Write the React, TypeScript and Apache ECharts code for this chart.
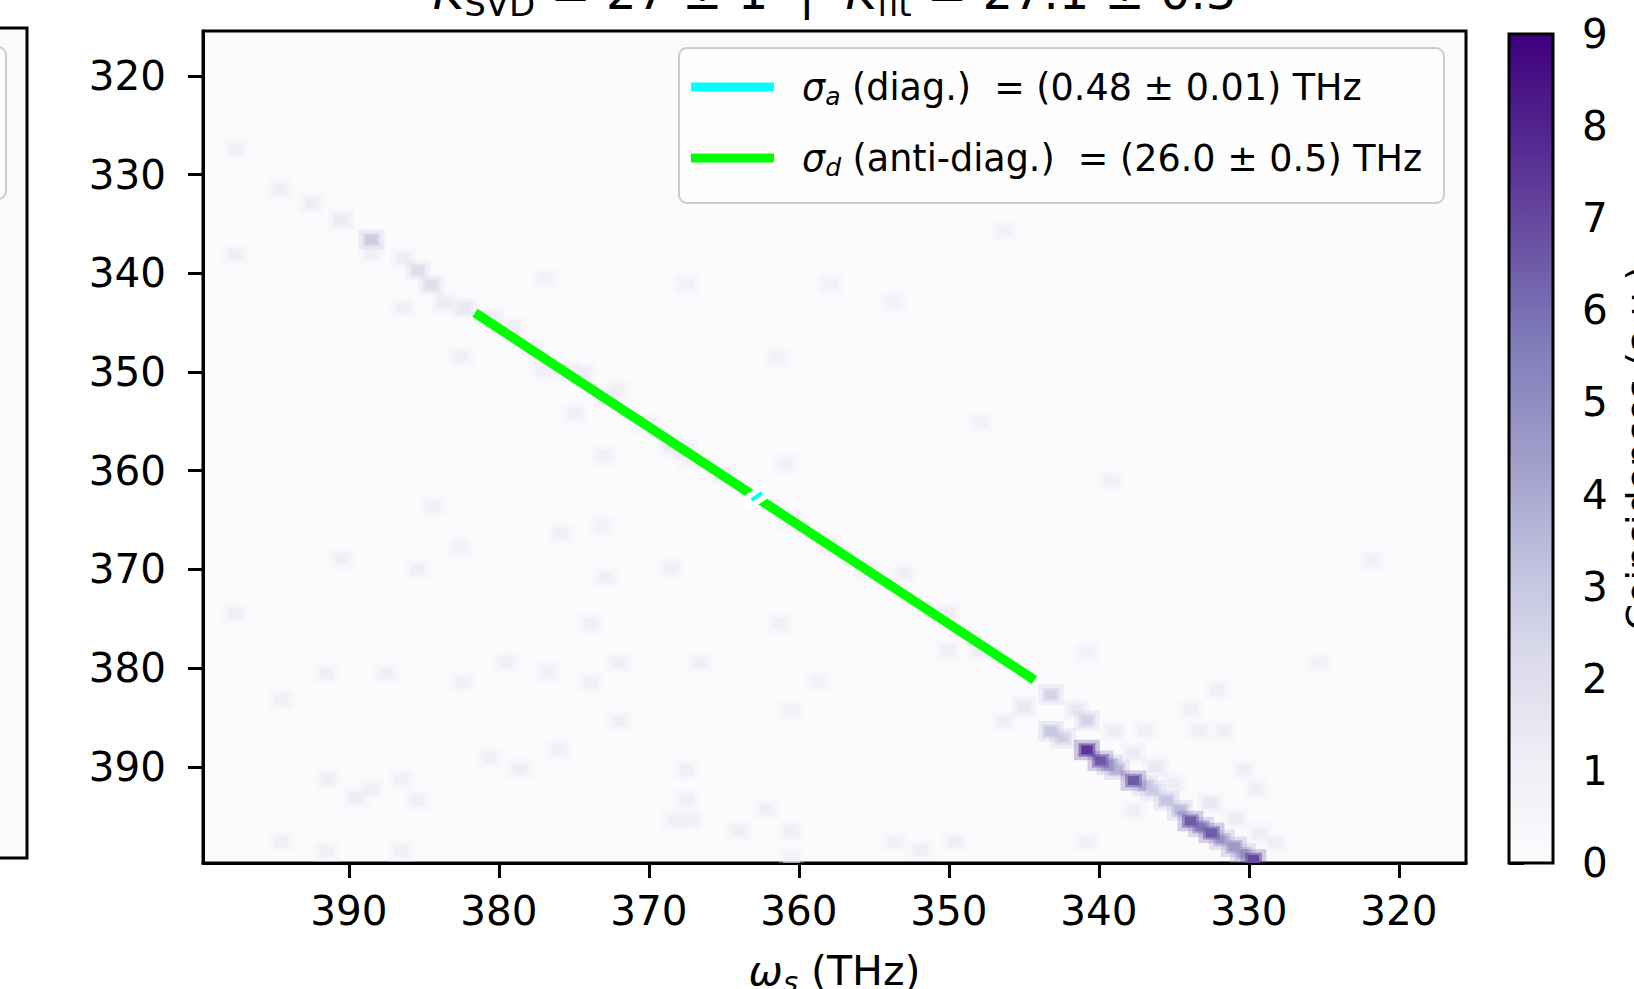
import React, { useEffect, useRef } from 'react';
import * as echarts from 'echarts';

// ---------- axes ----------
const X_RANGE = [315.53, 399.73]; // omega_s (THz), drawn reversed
const Y_RANGE = [315.45, 399.75]; // omega_i (THz), drawn top-down
const xTicks = [320, 330, 340, 350, 360, 370, 380, 390];
const yTicks = [320, 330, 340, 350, 360, 370, 380, 390];
const CB_MIN = 0;
const CB_MAX = 9;

// matplotlib "Purples"
const purples = ['#fcfbfd', '#efedf5', '#dadaeb', '#bcbddc', '#9e9ac8', '#807dba', '#6a51a3', '#54278f', '#3f007d'];

// histogram cell size (THz)
const BIN_X = 0.75;
const BIN_Y = 0.9;

// ---------- histogram cells: [omega_s, omega_i, coincidences] ----------
const upperStreak = [
  [397.5, 327.4, 1.0], [394.6, 331.5, 1.0], [392.5, 332.9, 1.2], [390.5, 334.6, 1.3],
  [388.5, 336.6, 2.8], [388.5, 338.0, 1.0], [386.4, 338.5, 1.2], [385.4, 339.7, 2.0],
  [384.5, 341.2, 2.0], [383.6, 343.0, 1.3], [382.3, 343.5, 1.5], [380.5, 344.4, 1.2],
  [379.0, 345.4, 1.0],
];

const underFitLine = [
  [377.8, 347.6, 1.2], [375.5, 350.0, 1.2], [372.8, 352.6, 1.3], [370.1, 355.3, 1.2],
  [367.6, 357.9, 1.5], [365.0, 360.4, 1.3], [360.5, 365.0, 1.2], [358.0, 367.5, 1.3],
  [355.4, 370.0, 1.2], [353.0, 370.4, 1.0], [350.1, 374.4, 1.2], [350.1, 378.2, 1.0],
  [347.9, 378.2, 1.2],
];

const lowerStreak = [
  [346.3, 385.4, 1.0], [345.0, 383.9, 1.5], [343.2, 382.7, 2.5], [343.2, 386.4, 3.0],
  [342.4, 387.1, 2.5], [341.5, 384.2, 1.5], [340.8, 385.3, 2.5], [340.8, 388.3, 7.5],
  [339.9, 389.4, 6.5], [339.3, 389.8, 4.0], [339.0, 386.4, 1.2], [338.8, 390.3, 3.5],
  [337.7, 391.4, 6.5], [337.7, 388.6, 1.3], [336.9, 386.3, 1.0], [336.9, 391.9, 3.0],
  [336.2, 390.0, 1.5], [336.4, 392.4, 2.5], [335.5, 393.4, 3.0], [335.0, 391.7, 1.2],
  [334.6, 394.4, 3.5], [333.9, 395.5, 6.5], [333.2, 396.1, 5.0], [332.6, 393.7, 1.5],
  [332.5, 396.7, 6.5], [331.8, 397.4, 4.0], [331.0, 398.1, 4.5], [330.4, 398.8, 4.0],
  [329.7, 399.4, 7.0], [330.9, 395.2, 1.2], [329.3, 396.7, 1.2], [328.2, 397.7, 1.0],
  [330.3, 390.3, 1.0], [329.5, 392.2, 1.0], [333.9, 384.2, 1.0], [333.3, 386.3, 1.0],
  [331.7, 386.4, 1.0], [332.1, 382.2, 1.0], [337.7, 394.4, 1.0], [340.8, 378.4, 0.8],
];

const noiseCells = [
  [397.6, 338.1, 1.0], [386.4, 343.5, 1.0], [376.9, 340.5, 0.8], [367.5, 341.1, 0.8],
  [382.5, 348.4, 1.0], [377.0, 349.8, 1.0], [374.4, 350.1, 1.2], [372.1, 351.8, 1.0],
  [374.9, 354.2, 1.0], [373.0, 358.5, 1.0], [368.5, 357.6, 1.3], [367.3, 358.9, 1.0],
  [361.4, 348.5, 0.8], [384.4, 363.6, 1.0], [375.9, 366.4, 1.0], [373.1, 365.6, 0.8],
  [382.6, 367.7, 0.8], [360.9, 359.3, 0.8], [346.3, 335.7, 0.8], [357.9, 341.1, 0.8],
  [353.7, 342.9, 0.8], [347.9, 355.1, 0.8], [339.2, 361.0, 0.8], [390.5, 369.0, 1.0],
  [385.4, 370.0, 1.0], [397.6, 374.5, 1.0], [391.5, 380.5, 1.0], [387.5, 380.5, 1.0],
  [394.5, 383.2, 1.0], [382.4, 381.4, 1.0], [379.5, 379.4, 1.0], [376.7, 380.4, 0.8],
  [391.4, 391.3, 1.0], [389.5, 393.1, 1.2], [388.5, 392.3, 1.0], [386.5, 391.3, 1.0],
  [385.4, 393.4, 1.0], [380.6, 389.1, 1.0], [378.6, 390.2, 1.2], [376.0, 388.3, 1.0],
  [394.5, 397.6, 1.0], [391.5, 398.6, 1.0], [386.5, 398.6, 1.0], [372.9, 370.8, 1.0],
  [368.5, 369.9, 1.0], [373.9, 375.5, 1.0], [361.3, 375.5, 1.0], [372.0, 379.5, 1.0],
  [366.6, 379.5, 1.0], [373.9, 381.5, 1.0], [358.7, 381.4, 0.8], [360.5, 384.3, 0.8],
  [372.0, 385.3, 1.0], [367.5, 390.3, 1.0], [367.5, 393.3, 1.0], [368.3, 395.4, 1.0],
  [367.2, 395.4, 1.0], [362.2, 394.3, 1.0], [364.0, 396.5, 1.0], [360.5, 396.5, 1.0],
  [353.6, 397.6, 1.0], [360.5, 399.1, 0.8], [351.9, 398.4, 1.0], [349.6, 397.6, 1.0],
  [340.8, 397.6, 1.0], [321.8, 369.1, 0.8], [325.3, 379.5, 0.8],
];

// ---------- fitted widths (drawn as segments) ----------
const sigmaAntiDiagLine = [[381.6, 344.0], [344.3, 381.2]];
const sigmaDiagLine = [[362.45, 362.25], [363.15, 362.95]];

const legendLabels = [
  { color: '#00ffff', sub: 'a', text: ' (diag.)  = (0.48 ± 0.01) THz' },
  { color: '#00ff00', sub: 'd', text: ' (anti-diag.)  = (26.0 ± 0.5) THz' },
];
const titleParts = ['K', 'SVD', ' = 27 ± 1  |  ', 'K', 'fit', ' = 27.1 ± 0.3'];
const colorbarLabel = 'Coincidences (a.u.)';

const FONT = 'DejaVu Sans';
const TICK_FS = 40.5;

function buildOption() {
  const cells = [...upperStreak, ...underFitLine, ...lowerStreak, ...noiseCells]
    .slice()
    .sort((a, b) => a[2] - b[2]);

  const stops = purples.map((c, i) => ({ offset: i / (purples.length - 1), color: c }));

  const sub = (size: number, lh: number, italic = false) => ({
    fontSize: size, fontFamily: FONT, fill: '#000', color: '#000', lineHeight: lh,
    verticalAlign: 'bottom', fontStyle: italic ? 'italic' : 'normal',
  });

  const cellRect = (api: any, x: number, y: number, k: number) => {
    const p1 = api.coord([x - (BIN_X * k) / 2, y - (BIN_Y * k) / 2]);
    const p2 = api.coord([x + (BIN_X * k) / 2, y + (BIN_Y * k) / 2]);
    return {
      x: Math.min(p1[0], p2[0]), y: Math.min(p1[1], p2[1]),
      width: Math.abs(p2[0] - p1[0]), height: Math.abs(p2[1] - p1[1]),
    };
  };

  return {
    animation: false,
    backgroundColor: '#ffffff',
    textStyle: { fontFamily: FONT },
    grid: [
      { left: 203, right: 168, top: 31, bottom: 126, show: true, backgroundColor: '#fbfafc', borderColor: '#000', borderWidth: 3, containLabel: false, outerBoundsMode: 'none' },
      { left: 1509, right: 81, top: 34, bottom: 126, show: false, containLabel: false, outerBoundsMode: 'none' },
    ],
    visualMap: {
      type: 'continuous', show: false, min: CB_MIN, max: CB_MAX, dimension: 2, seriesIndex: 0,
      inRange: { color: purples },
    },
    xAxis: [
      {
        type: 'value', gridIndex: 0, min: X_RANGE[0], max: X_RANGE[1], inverse: true,
        axisLine: { show: true, onZero: false, lineStyle: { color: '#000', width: 3 } },
        axisTick: { show: true, length: 15, customValues: xTicks, lineStyle: { color: '#000', width: 3 } },
        axisLabel: { customValues: xTicks, color: '#000', fontSize: TICK_FS, fontFamily: FONT, margin: 27 },
        splitLine: { show: false },
        name: '{w|ω}{s|s}{n| (THz)}',
        nameLocation: 'middle',
        nameGap: 83,
        nameTextStyle: {
          fontSize: 41, fontFamily: FONT, color: '#000', lineHeight: 50,
          rich: {
            w: { fontSize: 41, fontFamily: FONT, color: '#000', fontStyle: 'italic', lineHeight: 50 },
            s: { ...sub(29, 30, true) },
            n: { fontSize: 41, fontFamily: FONT, color: '#000', lineHeight: 50 },
          },
        },
      },
      { type: 'value', gridIndex: 1, min: 0, max: 1, show: false },
    ],
    yAxis: [
      {
        type: 'value', gridIndex: 0, min: Y_RANGE[0], max: Y_RANGE[1], inverse: true,
        axisLine: { show: true, onZero: false, lineStyle: { color: '#000', width: 3 } },
        axisTick: { show: true, length: 15, customValues: yTicks, lineStyle: { color: '#000', width: 3 } },
        axisLabel: { customValues: yTicks, color: '#000', fontSize: TICK_FS, fontFamily: FONT, margin: 37 },
        splitLine: { show: false },
      },
      {
        type: 'value', gridIndex: 1, min: CB_MIN, max: CB_MAX, interval: 1, position: 'right',
        axisLine: { show: false },
        axisTick: { show: true, length: 15, lineStyle: { color: '#000', width: 3 } },
        axisLabel: { color: '#000', fontSize: TICK_FS, fontFamily: FONT, margin: 29 },
        splitLine: { show: false },
      },
    ],
    series: [
      {
        type: 'custom', xAxisIndex: 0, yAxisIndex: 0, clip: true, silent: true,
        dimensions: ['ws', 'wi', 'counts'],
        encode: { x: 0, y: 1 },
        data: cells,
        renderItem: (params: any, api: any) => {
          const x = api.value(0);
          const y = api.value(1);
          const color = api.visual('color');
          return {
            type: 'group',
            children: [
              { type: 'rect', shape: cellRect(api, x, y, 2.3), style: { fill: color, opacity: 0.28 } },
              { type: 'rect', shape: cellRect(api, x, y, 1.5), style: { fill: color, opacity: 0.55 } },
              { type: 'rect', shape: cellRect(api, x, y, 1.0), style: { fill: color } },
            ],
          };
        },
      },
      {
        type: 'line', xAxisIndex: 0, yAxisIndex: 0, data: sigmaAntiDiagLine, symbol: 'none', silent: true, z: 5,
        lineStyle: { color: '#00ff00', width: 9.5 },
      },
      {
        type: 'line', xAxisIndex: 0, yAxisIndex: 0, data: sigmaDiagLine, symbol: 'none', silent: true, z: 6,
        lineStyle: { color: '#ffffff', width: 15, cap: 'round' },
      },
      {
        type: 'line', xAxisIndex: 0, yAxisIndex: 0, data: sigmaDiagLine, symbol: 'none', silent: true, z: 7,
        lineStyle: { color: '#00ffff', width: 4 },
      },
      {
        type: 'custom', xAxisIndex: 1, yAxisIndex: 1, silent: true, z: 3,
        data: [[0, CB_MIN, CB_MAX]],
        renderItem: (params: any, api: any) => {
          const p1 = api.coord([0, api.value(1)]);
          const p2 = api.coord([1, api.value(2)]);
          const shape = { x: p1[0], y: p2[1], width: p2[0] - p1[0], height: p1[1] - p2[1] };
          return {
            type: 'group',
            children: [
              { type: 'rect', shape, style: { fill: new echarts.graphic.LinearGradient(0, 1, 0, 0, stops) } },
              { type: 'rect', shape, style: { fill: 'none', stroke: '#000', lineWidth: 3 } },
            ],
          };
        },
      },
    ],
    graphic: [
      // neighbouring panel (cut off at the left edge)
      { type: 'rect', z: 1, shape: { x: -20, y: 28, width: 47, height: 830 }, style: { fill: '#fbfafc', stroke: '#000', lineWidth: 3 } },
      { type: 'rect', z: 2, shape: { x: -80, y: 47, width: 86, height: 152, r: 8 }, style: { fill: 'rgba(255,255,255,0.8)', stroke: '#cccccc', lineWidth: 2 } },
      // title (mostly above the page, as in the original crop)
      {
        type: 'text', z: 10, x: 834.5, y: -37,
        style: {
          text: `{k|${titleParts[0]}}{s|${titleParts[1]}}{n|${titleParts[2]}}{k|${titleParts[3]}}{s|${titleParts[4]}}{n|${titleParts[5]}}`,
          align: 'center', verticalAlign: 'top', fontFamily: FONT, fontSize: 48, fill: '#000',
          rich: {
            k: { fontSize: 48, fontFamily: FONT, fill: '#000', fontStyle: 'italic', lineHeight: 58 },
            s: { ...sub(34, 40) },
            n: { fontSize: 48, fontFamily: FONT, fill: '#000', lineHeight: 58 },
          },
        },
      },
      // legend
      {
        type: 'rect', z: 20, shape: { x: 679, y: 48, width: 765, height: 155, r: 8 },
        style: { fill: 'rgba(255,255,255,0.8)', stroke: '#cccccc', lineWidth: 2 },
      },
      ...legendLabels.flatMap((l, i) => {
        const y = 87 + i * 71;
        return [
          { type: 'line', z: 21, shape: { x1: 691, y1: y, x2: 774, y2: y }, style: { stroke: l.color, lineWidth: 9 } },
          {
            type: 'text', z: 21, x: 802, y,
            style: {
              text: `{g|σ}{s|${l.sub}}{n|${l.text}}`,
              align: 'left', verticalAlign: 'middle', fontFamily: FONT, fontSize: 36.5, fill: '#000',
              rich: {
                g: { fontSize: 36.5, fontFamily: FONT, fill: '#000', fontStyle: 'italic', lineHeight: 44 },
                s: { ...sub(25, 22, true) },
                n: { fontSize: 36.5, fontFamily: FONT, fill: '#000', lineHeight: 44 },
              },
            },
          },
        ];
      }),
      // colorbar label (cut at the right edge)
      {
        type: 'text', z: 10, x: 1640, y: 448, rotation: Math.PI / 2,
        style: { text: colorbarLabel, align: 'center', verticalAlign: 'middle', fontFamily: FONT, fontSize: 38, fill: '#000' },
      },
    ],
  };
}

export default function App() {
  const ref = useRef<HTMLDivElement>(null);
  useEffect(() => {
    if (!ref.current) return;
    const chart = echarts.init(ref.current, null, { renderer: 'svg' });
    chart.setOption(buildOption() as any);
    return () => chart.dispose();
  }, []);
  return (
    <div
      ref={ref}
      style={{ position: 'fixed', left: 0, top: 0, width: 1634, height: 989, background: '#ffffff' }}
    />
  );
}
